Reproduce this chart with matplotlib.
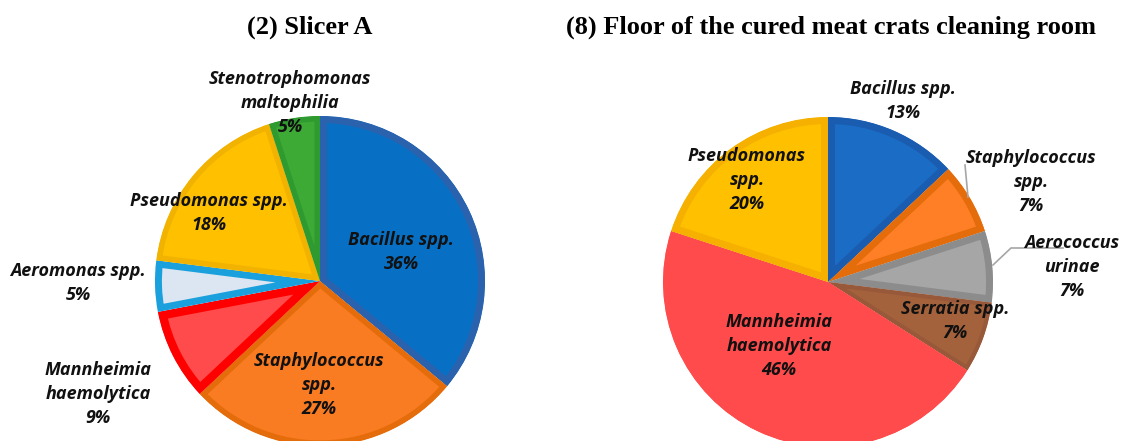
import numpy as np
import matplotlib
matplotlib.use('Agg')
import matplotlib.pyplot as plt

# Данные
left_title = '(2) Slicer A'
left_names = ['Bacillus spp.', 'Staphylococcus\nspp.', 'Mannheimia\nhaemolytica',
              'Aeromonas spp.', 'Pseudomonas spp.', 'Stenotrophomonas\nmaltophilia']
left_values = [36, 27, 9, 5, 18, 5]

right_title = '(8) Floor of the cured meat crats cleaning room'
right_names = ['Bacillus spp.', 'Staphylococcus\nspp.', 'Aerococcus\nurinae',
               'Serratia spp.', 'Mannheimia\nhaemolytica', 'Pseudomonas\nspp.']
right_values = [13, 7, 7, 7, 46, 20]

# Стиль
left_fill = ['#0870C4', '#F97B22', '#FF4B4B', '#DCE6F2', '#FFC000', '#3DAA35']
left_edge = ['#2A62AE', '#E46C0A', '#FF0000', '#1AA0DC', '#F2B200', '#2F9A2F']
left_explode = [0.015, 0.0, 0.015, 0.025, 0.0, 0.0]
left_lw = [10, 8, 12, 10, 8, 8]
# позиции подписей в пикселях (x, y сверху)
left_pos = [(401, 252), (319, 385), (98, 394), (78, 283), (209, 213), (290, 103)]

right_fill = ['#1A6CC4', '#FF7F27', '#A6A6A6', '#A3623C', '#FF4B4B', '#FFC000']
right_edge = ['#1A5CAF', '#E46C0A', '#8C8C8C', '#98583A', '#FF4B4B', '#F5B000']
right_lw = [10, 10, 10, 6, 2, 10]
right_pos = [(903, 101), (1031, 182), (1072, 267), (955, 321), (779, 346), (747, 180)]

W, H = 1128, 441
fig = plt.figure(figsize=(W / 100, H / 100), dpi=100)
ax = fig.add_axes([0, 0, 1, 1])


def draw_pie(values, names, fill, edge, lws, pos, center, explode=None):
    wedges, _ = ax.pie(values, colors=fill, startangle=90, counterclock=False,
                       center=center, radius=165, explode=explode)
    for w, ec, lw in zip(wedges, edge, lws):
        w.set_edgecolor(ec)
        w.set_linewidth(lw)
        w.set_joinstyle('miter')
        # обводка только внутри сектора
        w.set_clip_on(True)
        w.set_clip_path(w)
    for name, v, (x, y) in zip(names, values, pos):
        ax.text(x, H - y, f'{name}\n{v}%', ha='center', va='center',
                fontsize=13, fontweight='bold', fontstyle='italic',
                family=['Open Sans', 'DejaVu Sans'], linespacing=1.45, color='#111111')


draw_pie(left_values, left_names, left_fill, left_edge, left_lw, left_pos,
         (320, H - 281), left_explode)
draw_pie(right_values, right_names, right_fill, right_edge, right_lw, right_pos,
         (828, H - 282))

# выноски справа
ax.plot([965, 968], [H - 165, H - 197], color='#A6A6A6', lw=1.2)
ax.plot([1063, 1011, 993], [H - 248, H - 248, H - 265], color='#A6A6A6', lw=1.2)

ax.text(310, H - 27, left_title, ha='center', va='center', fontsize=19,
        fontweight='bold', family='Liberation Serif')
ax.text(831, H - 27, right_title, ha='center', va='center', fontsize=19,
        fontweight='bold', family='Liberation Serif')

ax.set_xlim(0, W)
ax.set_ylim(0, H)
ax.axis('off')

fig.savefig('out.png', dpi=100)
